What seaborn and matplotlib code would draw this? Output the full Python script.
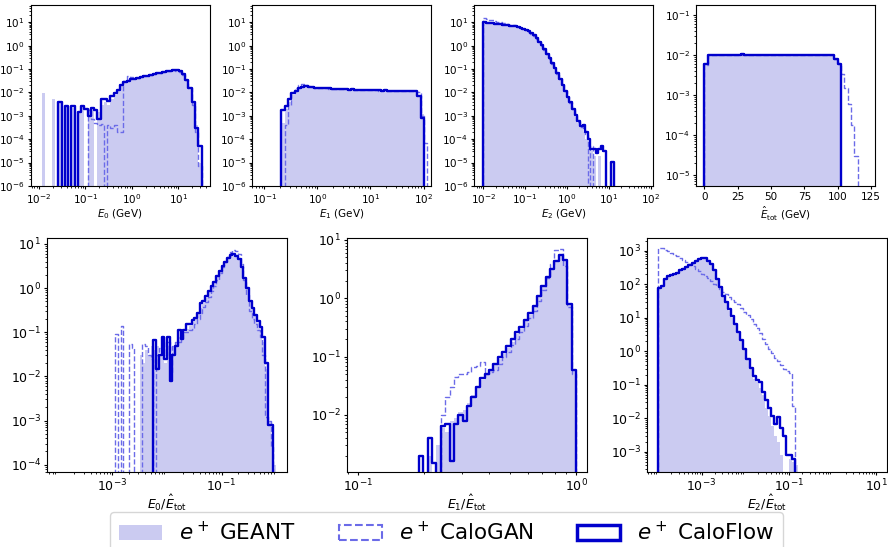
import numpy as np
import matplotlib
matplotlib.use("Agg")
import matplotlib.pyplot as plt
from matplotlib.patches import Patch
from matplotlib.ticker import NullFormatter
import seaborn as sns

GEANT_C = "#cbcbf1"
GAN_C = "#6b6be8"
FLOW_C = "#0000cc"

# ---------------- E0 (GeV), log10 bin edges ----------------
e0_edges = np.linspace(-2.0, 1.5, 51)
e0_geant = [0, 9e-3, 0, 0, 5e-3, 0, 4e-3, 0, 2.5e-3, 0,
            2.2e-3, 0, 1.5e-3, 2.5e-3, 0, 2e-3, 1.8e-3, 0, 1.5e-3, 3e-3,
            4e-3, 3e-3, 5e-3, 8e-3, 0.012, 0.019, 0.027, 0.033, 0.037, 0.039,
            0.042, 0.046, 0.049, 0.053, 0.057, 0.061, 0.066, 0.071, 0.076, 0.081,
            0.086, 0.089, 0.088, 0.078, 0.058, 0.033, 0.016, 4e-3, 4e-4, 1e-5]
e0_gan = [0, 0, 0, 0, 0, 0, 0, 0, 0, 0,
          0, 0, 0, 0, 0, 1.8e-3, 7e-4, 5e-4, 4e-4, 4.5e-4,
          0, 4e-4, 3e-4, 4e-4, 2e-4, 2e-4, 0.03, 0.05, 0.045, 0.04,
          0.042, 0.045, 0.048, 0.052, 0.056, 0.06, 0.065, 0.07, 0.075, 0.08,
          0.085, 0.087, 0.086, 0.078, 0.058, 0.033, 0.015, 3e-3, 2e-4, 7e-6]
e0_flow = [0, 0, 0, 0, 0, 0, 4e-3, 0, 2.7e-3, 0,
           2.7e-3, 0, 1.4e-3, 2.7e-3, 2e-3, 1e-3, 2.2e-3, 1.8e-3, 7e-4, 5e-3,
           5e-3, 4.5e-3, 7e-3, 9e-3, 0.013, 0.02, 0.027, 0.032, 0.036, 0.038,
           0.042, 0.045, 0.048, 0.052, 0.056, 0.06, 0.065, 0.07, 0.075, 0.08,
           0.085, 0.088, 0.088, 0.08, 0.06, 0.035, 0.015, 4e-3, 3e-4, 5e-5]

# ---------------- E1 (GeV) ----------------
e1_edges = np.linspace(-0.68, 2.1325, 46)
e1_geant = [5e-4, 2e-3, 4e-3, 8e-3, 0.011, 0.014, 0.016, 0.017, 0.017, 0.0165,
            0.016, 0.0155, 0.015, 0.0148, 0.015, 0.0142, 0.014, 0.0138, 0.0138, 0.0135,
            0.0132, 0.0132, 0.013, 0.0128, 0.0128, 0.0126, 0.0125, 0.0124, 0.0122, 0.0122,
            0.012, 0.012, 0.0119, 0.0118, 0.0118, 0.0117, 0.0117, 0.0116, 0.0115, 0.0115,
            0.0114, 8e-3, 1.2e-3, 0, 0]
e1_gan = [0, 4e-4, 3e-3, 0.01, 0.016, 0.021, 0.023, 0.02, 0.018, 0.017,
          0.016, 0.016, 0.0155, 0.015, 0.0145, 0.0145, 0.014, 0.014, 0.0138, 0.0135,
          0.0135, 0.013, 0.0132, 0.0128, 0.013, 0.0125, 0.0126, 0.0122, 0.0124, 0.012,
          0.0122, 0.012, 0.0118, 0.012, 0.0117, 0.0118, 0.0115, 0.0116, 0.0115, 0.0114,
          0.0113, 0.01, 1e-3, 7e-5, 0]
e1_flow = [1.8e-3, 2.5e-3, 5e-3, 9e-3, 0.012, 0.015, 0.017, 0.018, 0.017, 0.017,
           0.016, 0.016, 0.015, 0.015, 0.016, 0.014, 0.014, 0.0135, 0.014, 0.0135,
           0.013, 0.0135, 0.013, 0.013, 0.0128, 0.0128, 0.0125, 0.0125, 0.0122, 0.0123,
           0.012, 0.0122, 0.012, 0.0118, 0.0118, 0.0117, 0.0118, 0.0116, 0.0115, 0.0116,
           0.0115, 7e-3, 8e-4, 0, 0]

# ---------------- E2 (GeV) ----------------
e2_edges = np.linspace(-2.0, 1.125, 51)
e2_geant = [9.0, 8.8, 8.7, 8.5, 8.3, 8.1, 7.9, 7.6, 7.4, 7.2,
            7.0, 6.8, 6.5, 6.1, 5.6, 5.0, 4.5, 3.9, 3.3, 2.7,
            2.0, 1.45, 1.0, 0.68, 0.44, 0.28, 0.17, 0.105, 0.062, 0.036,
            0.019, 0.011, 6e-3, 3.5e-3, 1.8e-3, 9e-4, 5e-4, 3e-4, 2e-4, 1e-4,
            5e-5, 3e-5, 2e-5, 0, 2e-5, 0, 0, 0, 0, 0]
e2_gan = [15, 14, 13, 12, 11, 10.5, 10, 9.5, 9.0, 8.5,
          8.0, 7.5, 7.0, 6.4, 5.8, 5.2, 4.6, 4.0, 3.3, 2.7,
          2.0, 1.45, 1.0, 0.68, 0.44, 0.28, 0.17, 0.11, 0.064, 0.037,
          0.02, 0.011, 6.2e-3, 3.6e-3, 1.9e-3, 1e-3, 5.5e-4, 3.2e-4, 3e-4, 1.5e-4,
          0, 5e-5, 0, 0, 0, 0, 0, 0, 0, 0]
e2_flow = [10, 9.5, 9.2, 9.0, 8.7, 8.5, 8.2, 7.9, 7.7, 7.4,
           7.2, 7.0, 6.7, 6.2, 5.7, 5.1, 4.6, 4.1, 3.4, 2.8,
           2.1, 1.5, 1.05, 0.7, 0.45, 0.29, 0.18, 0.11, 0.065, 0.038,
           0.02, 0.011, 6.5e-3, 3.8e-3, 2e-3, 1.1e-3, 6e-4, 3.5e-4, 4e-4, 2e-4,
           1e-4, 4e-5, 4e-5, 2.5e-5, 4e-5, 5e-5, 3e-5, 0, 0, 1.1e-5]

# ---------------- E_tot (GeV), linear bin edges ----------------
etot_edges = np.linspace(0, 115, 47)
etot_geant = [5.8e-3, 0.0101, 0.0100, 0.0102, 0.0099, 0.0100, 0.0101, 0.0103, 0.0100, 0.0099,
              0.0101, 0.0102, 0.0100, 0.0101, 0.0099, 0.0100, 0.0102, 0.0101, 0.0099, 0.0100,
              0.0101, 0.0100, 0.0102, 0.0099, 0.0100, 0.0101, 0.0100, 0.0102, 0.0099, 0.0101,
              0.0100, 0.0101, 0.0100, 0.0099, 0.0101, 0.0102, 0.0100, 0.0101, 0.0099, 8.5e-3,
              5.5e-3, 0, 0, 0, 0, 0]
etot_gan = [5.5e-3, 0.0102, 0.0101, 0.0099, 0.0100, 0.0103, 0.0100, 0.0101, 0.0099, 0.0102,
            0.0100, 0.0101, 0.0103, 0.0099, 0.0100, 0.0101, 0.0100, 0.0102, 0.0100, 0.0099,
            0.0101, 0.0102, 0.0100, 0.0100, 0.0101, 0.0099, 0.0102, 0.0100, 0.0101, 0.0100,
            0.0099, 0.0102, 0.0101, 0.0100, 0.0099, 0.0101, 0.0100, 0.0101, 0.0100, 8e-3,
            6e-3, 3.3e-3, 1.5e-3, 5.8e-4, 1.8e-4, 3e-5]
etot_flow = [6e-3, 0.0100, 0.0102, 0.0099, 0.0101, 0.0100, 0.0103, 0.0099, 0.0101, 0.0100,
             0.0102, 0.0104, 0.0100, 0.0099, 0.0101, 0.0102, 0.0100, 0.0098, 0.0101, 0.0100,
             0.0102, 0.0099, 0.0100, 0.0101, 0.0103, 0.0100, 0.0099, 0.0101, 0.0100, 0.0102,
             0.0100, 0.0099, 0.0101, 0.0100, 0.0102, 0.0100, 0.0101, 0.0099, 0.0100, 8e-3,
             6e-3, 0, 0, 0, 0, 0]

# ---------------- E0 / E_tot ----------------
r0_edges = np.linspace(-3.0, 0.0, 61)
r0_geant = [0, 0, 0, 0, 0, 0, 0, 0, 0, 0,
            0.03, 0.02, 0.04, 0.03, 0.05, 0.04, 0.05, 0.03, 0.06, 0.02,
            0.05, 0.03, 0.05, 0.06, 0.08, 0.09, 0.1, 0.12, 0.14, 0.17,
            0.2, 0.26, 0.35, 0.45, 0.6, 0.8, 1.05, 1.35, 1.8, 2.4,
            3.1, 4.0, 4.9, 5.6, 6.0, 5.6, 4.6, 3.1, 1.7, 1.0,
            0.5, 0.33, 0.23, 0.16, 0.11, 0.06, 0.015, 1e-3, 4e-4, 1e-4]
r0_gan = [0, 0.09, 0, 0.14, 0, 0, 0.055, 0.045, 0, 0,
          0, 0.055, 0.05, 0.03, 0.025, 0, 0.03, 0.045, 0.06, 0.03,
          0.06, 0.012, 0.05, 0.06, 0.06, 0.07, 0.1, 0.1, 0.11, 0.12,
          0.15, 0.2, 0.28, 0.37, 0.48, 0.62, 0.85, 1.1, 1.5, 2.2,
          3.0, 4.0, 5.2, 6.5, 7.3, 7.0, 6.0, 3.5, 1.5, 0.7,
          0.3, 0.2, 0.15, 0.11, 0.08, 0.03, 1.2e-3, 1e-3, 2.5e-4, 0]
r0_flow = [0, 0, 0, 0, 0, 0, 0, 0, 0, 0,
           0, 0, 0, 0, 0, 0.068, 0.015, 0.03, 0.08, 0.025,
           0.08, 0.008, 0.03, 0.05, 0.11, 0.07, 0.11, 0.15, 0.15, 0.19,
           0.21, 0.28, 0.45, 0.5, 0.65, 0.85, 1.1, 1.4, 1.9, 2.5,
           3.2, 4.0, 4.8, 5.5, 5.9, 5.3, 4.5, 3.0, 1.7, 1.0,
           0.5, 0.35, 0.25, 0.18, 0.13, 0.08, 0.02, 8e-4, 8e-4, 0]

# ---------------- E1 / E_tot ----------------
r1_edges = np.linspace(-0.74, 0.0, 38)
r1_geant = [0, 0, 0, 2e-3, 1e-3, 3e-3, 6e-3, 5e-3, 8e-3, 9e-3,
            0.011, 0.012, 0.016, 0.022, 0.03, 0.04, 0.048, 0.058, 0.072, 0.09,
            0.11, 0.14, 0.18, 0.24, 0.3, 0.4, 0.52, 0.72, 1.05, 1.55,
            2.3, 3.3, 4.6, 5.6, 4.3, 0.8, 0.06]
r1_gan = [0, 0, 0, 0, 0, 0, 0.01, 0.02, 0.03, 0.045,
          0.05, 0.05, 0.055, 0.065, 0.07, 0.08, 0.05, 0.055, 0.06, 0.075,
          0.1, 0.12, 0.16, 0.2, 0.26, 0.33, 0.45, 0.6, 0.9, 1.4,
          2.2, 3.8, 6.8, 7.0, 3.5, 0.7, 0.05]
r1_flow = [0, 2e-3, 0, 4e-3, 1.5e-3, 0, 6.5e-3, 7e-3, 1.6e-3, 7e-3,
           0.01, 8e-3, 0.014, 0.02, 0.03, 0.043, 0.05, 0.06, 0.075, 0.1,
           0.12, 0.15, 0.2, 0.26, 0.32, 0.42, 0.55, 0.75, 1.1, 1.6,
           2.3, 3.2, 4.3, 5.6, 4.5, 0.8, 0.06]

# ---------------- E2 / E_tot ----------------
r2_edges = np.linspace(-4.0, -0.5, 51)
r2_geant = [75, 88, 135, 165, 185, 198, 218, 255, 285, 325,
            365, 430, 490, 550, 590, 585, 495, 390, 250, 135,
            75, 42, 27, 16, 10, 6, 3.4, 2.0, 1.1, 0.55,
            0.3, 0.15, 0.12, 0.08, 0.05, 0.02, 0.012, 6e-3, 3e-3, 2e-3,
            8e-4, 0, 0, 6e-4, 5e-4, 4e-4, 0, 0, 0, 0]
r2_gan = [1200, 1180, 1050, 950, 850, 760, 680, 600, 530, 460,
          410, 350, 290, 240, 205, 175, 150, 125, 105, 86,
          72, 60, 50, 42, 35, 29, 25, 19, 15, 12,
          9, 6.5, 4.9, 3.4, 2.3, 1.6, 1.2, 0.9, 0.65, 0.5,
          0.38, 0.3, 0.25, 0.23, 0.023, 0, 0, 0, 0, 0]
r2_flow = [77, 90, 140, 170, 190, 200, 220, 260, 290, 330,
           370, 440, 500, 560, 600, 590, 500, 400, 260, 140,
           80, 45, 30, 18, 11, 6.5, 3.8, 2.2, 1.2, 0.6,
           0.32, 0.18, 0.14, 0.12, 0.06, 0.035, 0.02, 0.012, 7e-3, 0.011,
           5e-3, 3e-3, 8e-4, 8e-4, 6e-4, 0, 0, 0, 0, 0]


def draw_hist(ax, edges, vals, log_x, **kw):
    # pad an empty bin on each side so the outline closes down to the axis
    edges = np.asarray(edges, float)
    w = edges[1] - edges[0]
    edges = np.concatenate([[edges[0] - w], edges, [edges[-1] + w]])
    vals = np.concatenate([[0.0], np.asarray(vals, float), [0.0]])
    mids = 0.5 * (edges[:-1] + edges[1:])
    x = 10 ** mids if log_x else mids
    sns.histplot(x=x, weights=vals, bins=edges.tolist(), element="step",
                 log_scale=log_x, ax=ax, **kw)


def panel(ax, edges, geant, gan, flow, log_x, xlabel, xlim, ylim,
          xticks, yticks, fs, lpad):
    draw_hist(ax, edges, geant, log_x, fill=True, color=GEANT_C, alpha=1,
              linewidth=0)
    draw_hist(ax, edges, gan, log_x, fill=False, color=GAN_C, linewidth=1.0,
              linestyle="--")
    draw_hist(ax, edges, flow, log_x, fill=False, color=FLOW_C, linewidth=1.7)
    ax.set_yscale("log")
    ax.set_xticks(xticks)
    ax.set_yticks(yticks)
    ax.set_xlim(*xlim)
    ax.set_ylim(*ylim)
    ax.xaxis.set_minor_formatter(NullFormatter())
    ax.yaxis.set_minor_formatter(NullFormatter())
    ax.set_ylabel("")
    ax.set_xlabel(xlabel, fontsize=fs, labelpad=lpad)
    ax.tick_params(labelsize=fs, length=2.5, pad=1.8)
    ax.tick_params(which="minor", length=1.5)


fig = plt.figure(figsize=(8.88, 5.47), dpi=100)

top_y, top_h, top_w = 0.660, 0.331, 0.2016
bot_y, bot_h, bot_w = 0.137, 0.428, 0.2703

ax1 = fig.add_axes([0.0345, top_y, top_w, top_h])
ax2 = fig.add_axes([0.2838, top_y, top_w, top_h])
ax3 = fig.add_axes([0.5338, top_y, top_w, top_h])
ax4 = fig.add_axes([0.7838, top_y, top_w, top_h])
ax5 = fig.add_axes([0.0529, bot_y, bot_w, bot_h])
ax6 = fig.add_axes([0.3908, bot_y, bot_w, bot_h])
ax7 = fig.add_axes([0.7286, bot_y, bot_w, bot_h])

top_yt = [1e-6, 1e-5, 1e-4, 1e-3, 1e-2, 1e-1, 1e0, 1e1]
panel(ax1, e0_edges, e0_geant, e0_gan, e0_flow, True, r"$E_0$ (GeV)",
      (10 ** -2.175, 10 ** 1.675), (1e-6, 55), [1e-2, 1e-1, 1e0, 1e1], top_yt, 7.5, 1.5)
panel(ax2, e1_edges, e1_geant, e1_gan, e1_flow, True, r"$E_1$ (GeV)",
      (10 ** -1.23, 10 ** 2.14), (1e-6, 55), [1e-1, 1e0, 1e1, 1e2], top_yt, 7.5, 1.5)
panel(ax3, e2_edges, e2_geant, e2_gan, e2_flow, True, r"$E_2$ (GeV)",
      (10 ** -2.22, 10 ** 2.06), (1e-6, 55), [1e-2, 1e-1, 1e0, 1e1, 1e2], top_yt, 7.5, 1.5)
panel(ax4, etot_edges, etot_geant, etot_gan, etot_flow, False,
      r"$\hat{E}_{\rm tot}$ (GeV)", (-6.3, 128), (5.3e-6, 0.18),
      [0, 25, 50, 75, 100, 125], [1e-5, 1e-4, 1e-3, 1e-2, 1e-1], 7.5, 1.5)

panel(ax5, r0_edges, r0_geant, r0_gan, r0_flow, True, r"$E_0/\hat{E}_{\rm tot}$",
      (10 ** -4.2, 10 ** 0.2), (6.8e-5, 13.7), [1e-3, 1e-1],
      [1e-4, 1e-3, 1e-2, 1e-1, 1e0, 1e1], 9, -1.5)
panel(ax6, r1_edges, r1_geant, r1_gan, r1_flow, True, r"$E_1/\hat{E}_{\rm tot}$",
      (10 ** -1.05, 10 ** 0.05), (10 ** -2.98, 10.8), [1e-1, 1e0],
      [1e-2, 1e-1, 1e0, 1e1], 9, -1.5)
panel(ax7, r2_edges, r2_geant, r2_gan, r2_flow, True, r"$E_2/\hat{E}_{\rm tot}$",
      (10 ** -4.25, 10 ** 1.25), (2.5e-4, 2400), [1e-3, 1e-1, 1e1],
      [1e-3, 1e-2, 1e-1, 1e0, 1e1, 1e2, 1e3], 9, -1.5)

handles = [
    Patch(facecolor=GEANT_C, edgecolor="none"),
    Patch(facecolor="none", edgecolor=GAN_C, linestyle="--", linewidth=1.5),
    Patch(facecolor="none", edgecolor=FLOW_C, linewidth=2.5),
]
labels = [r"$e^+$ GEANT", r"$e^+$ CaloGAN", r"$e^+$ CaloFlow"]
fig.legend(handles, labels, loc="upper center", ncol=3, fontsize=15.5,
           bbox_to_anchor=(0.503, 0.064), borderaxespad=0)

fig.savefig("out.png", dpi=100)
